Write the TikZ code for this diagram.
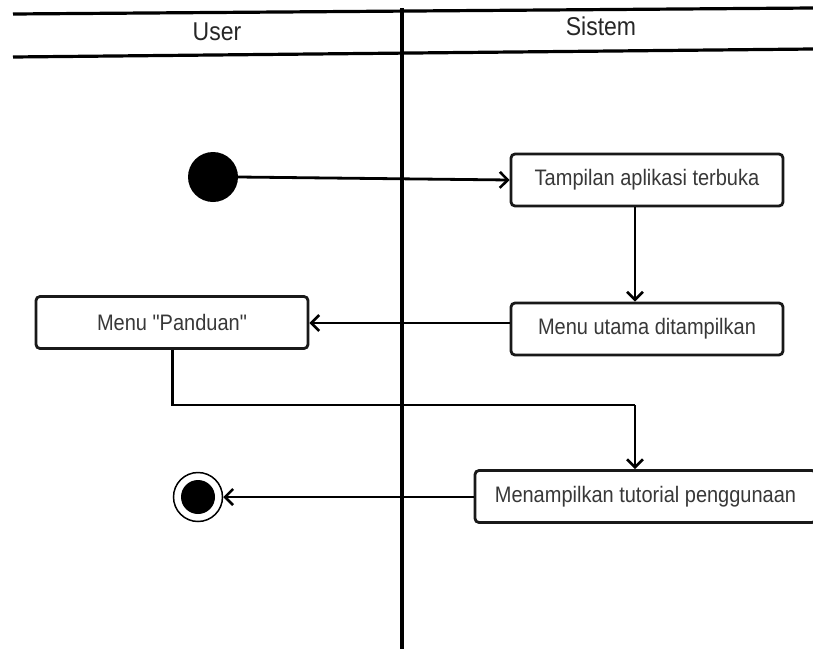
\documentclass[tikz,border=0pt]{standalone}
\usepackage{fontspec}
\setmainfont{Liberation Sans}[Ligatures=TeXOff]
\usepackage{graphicx}
\usetikzlibrary{arrows.meta}
% text in this drawing is set slightly taller than wide
\newcommand{\tallText}[1]{\scalebox{1}[1.12]{#1}}
\tikzset{
  actbox/.style={draw=black!90, line width=2.8pt, rounded corners=4pt, fill=white,
    minimum height=52pt, inner sep=0pt, text=black!78, font=\fontsize{20}{24}\selectfont},
  flow/.style={line width=2.8pt, -{Straight Barb[length=8pt,width=16pt,line width=2.6pt]}},
  flowline/.style={line width=2.8pt},
  lane/.style={line width=3.2pt},
  lanelabel/.style={text=black!85, font=\fontsize{23}{27}\selectfont, inner sep=0pt},
}
\begin{document}
\begin{tikzpicture}[x=1pt, y=-1pt]
\clip (0,0) rectangle (813,648);
\fill[white] (0,0) rectangle (813,648);

% swimlane frame
\draw[lane] (13,14) -- (813,8);
\draw[lane] (13,57) -- (813,49);
\draw[lane] (402,8) -- (402,650);
\node[lanelabel] (userlane) at (217,32) {\tallText{User}};
\node[lanelabel] (syslane) at (601,26) {\tallText{Sistem}};

% start and end
\node[circle, fill=black, minimum size=50pt, inner sep=0pt] (start) at (213,177) {};
\node[circle, draw=black, line width=1.5pt, fill=white, minimum size=49pt, inner sep=0pt] (finish) at (198,497) {};
\node[circle, fill=black, minimum size=34pt, inner sep=0pt] (finishdot) at (198,497) {};

% actions
\node[actbox, minimum width=272pt] (open) at (647,180) {\tallText{Tampilan aplikasi terbuka}};
\node[actbox, minimum width=272pt] (mainmenu) at (647,329) {\tallText{Menu utama ditampilkan}};
\node[actbox, minimum width=272pt] (guide) at (172,322.5) {\tallText{Menu "Panduan"}};
\node[actbox, minimum width=341pt] (tutorial) at (645.5,496.5) {\tallText{Menampilkan tutorial penggunaan}};

% flows
\draw[flow] (start.east) -- (open.west);
\draw[flow] (open.south -| 635,0) -- (mainmenu.north -| 635,0);
\draw[flow] (mainmenu.west |- 0,323) -- (guide.east |- 0,323);
\coordinate (bendA) at (172.5,405);
\coordinate (bendB) at (635,405);
\draw[flowline] (guide.south -| bendA) -- (bendA) -- (bendB);
\draw[flow] (bendB) -- (tutorial.north -| bendB);
\draw[flow] (tutorial.west |- 0,497) -- (finish.east |- 0,497);
\end{tikzpicture}
\end{document}
